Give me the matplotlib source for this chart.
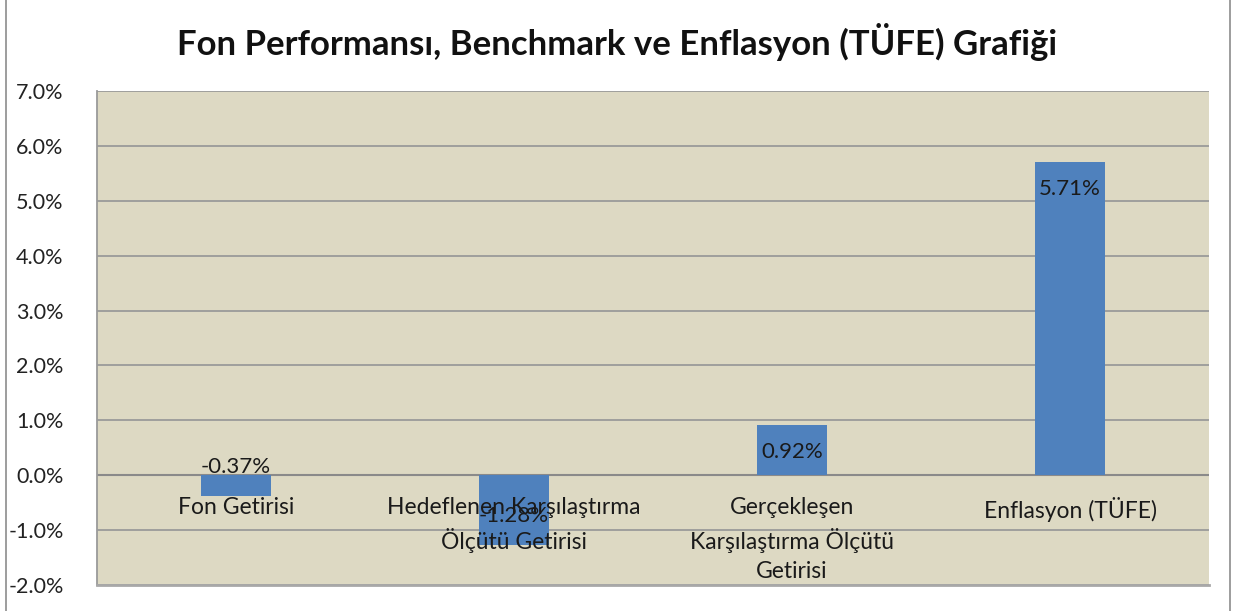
import matplotlib
matplotlib.use("Agg")
import matplotlib.pyplot as plt
from matplotlib.patches import FancyBboxPatch
import numpy as np

categories = ["Fon Getirisi", "Hedeflenen Karşılaştırma\nÖlçütü Getirisi",
              "Gerçekleşen\nKarşılaştırma Ölçütü\nGetirisi", "Enflasyon (TÜFE)"]
values = [-0.37, -1.28, 0.92, 5.71]
value_labels = ["-0.37%", "-1.28%", "0.92%", "5.71%"]
yticks = [-2, -1, 0, 1, 2, 3, 4, 5, 6, 7]
ytick_labels = ["-2.0%", "-1.0%", "0.0%", "1.0%", "2.0%", "3.0%", "4.0%", "5.0%", "6.0%", "7.0%"]
title = "Fon Performansı, Benchmark ve Enflasyon (TÜFE) Grafiği"

plt.rcParams['font.family'] = ['Lato', 'DejaVu Sans']

W, H = 1237, 611
fig = plt.figure(figsize=(W/100, H/100), dpi=100)
fig.patch.set_facecolor('white')

# outer chart border
border = FancyBboxPatch((6/W, -20/H), 1224/W, (H+40)/H, boxstyle="round,pad=0,rounding_size=0.01",
                        transform=fig.transFigure, facecolor='none', edgecolor='#8c8c8c', lw=1.2)
fig.patches.append(border)

ax = fig.add_axes([97/W, 1-585/H, (1209-97)/W, (585-91)/H])
ax.set_facecolor('#DDD9C3')
x = np.arange(len(categories))
ax.bar(x, values, width=0.25, color='#4F81BD', zorder=3)
ax.set_xlim(-0.5, len(categories)-0.5)
ax.set_ylim(-2, 7)
ax.set_yticks(yticks)
ax.set_yticklabels(ytick_labels, fontsize=15.5, color='#222222')
ax.set_xticks([])
ax.yaxis.grid(True, color='#9a9a9a', lw=1.3, zorder=1)
ax.tick_params(axis='y', length=0, pad=24)
for s in ['top', 'right']:
    ax.spines[s].set_visible(False)
ax.spines['left'].set_color('#9a9a9a')
ax.spines['left'].set_linewidth(1.3)
ax.spines['bottom'].set_color('#a8a8a8')
ax.spines['bottom'].set_linewidth(2)
ax.axhline(0, color='#8a8a8a', lw=1.5, zorder=2)

# data labels (inside end)
for xi, v, lab in zip(x, values, value_labels):
    off = -27 if v > 0 else 29
    ax.annotate(lab, (xi, v), xytext=(0, off), textcoords='offset pixels',
                ha='center', va='center', fontsize=16, color='#1a1a1a', zorder=5)

# category labels at the zero line
for xi, c in zip(x, categories):
    ax.annotate(c, (xi, 0), xytext=(0, -22), textcoords='offset pixels',
                ha='center', va='top', fontsize=16.5, color='#1a1a1a',
                linespacing=1.48, zorder=6)

fig.text(617/W, 1-42/H, title, ha='center', va='center', fontsize=25, fontweight='bold', color='#111111')

fig.savefig("out.png", dpi=100)
